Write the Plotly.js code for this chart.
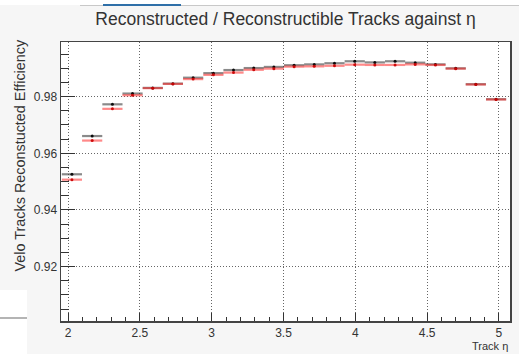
<!DOCTYPE html>
<html>
<head>
<meta charset="utf-8">
<script src="https://cdn.plot.ly/plotly-3.0.1.min.js"></script>
<style>
html,body{margin:0;padding:0;background:#f6f6f6;overflow:hidden;width:519px;height:354px;}
#wrap{position:absolute;left:0;top:0;width:519px;height:354px;background:#f6f6f6;overflow:hidden;}
#chart{position:absolute;left:0;top:0;width:519px;height:354px;z-index:2;}
.deco{position:absolute;z-index:1;}
</style>
</head>
<body>
<div id="wrap">
  <div class="deco" style="left:0;top:0;width:519px;height:5px;background:#ffffff;"></div>
  <div class="deco" style="left:80px;top:5px;width:439px;height:1px;background:#c8c8c8;"></div>
  <div class="deco" style="left:103px;top:4px;width:78px;height:2px;background:#2f6fa8;"></div>
  <div class="deco" style="left:0;top:290px;width:27px;height:64px;background:#ffffff;"></div>
  <div class="deco" style="left:0;top:317px;width:27px;height:2px;background:#b4b4b4;"></div>
  <div id="chart"></div>
</div>
<script>
// Bin centres in track eta (22 uniform bins)
const etaCenters = [2.027, 2.168, 2.309, 2.449, 2.590, 2.730, 2.871, 3.012, 3.152, 3.293, 3.433,
                    3.574, 3.714, 3.855, 3.996, 4.136, 4.277, 4.417, 4.558, 4.699, 4.839, 4.980];
const etaHalfWidth = 0.0703;

// Series 1 (black)
const effBlack = [0.9526, 0.9661, 0.9773, 0.9811, 0.9831, 0.9846, 0.9867, 0.9883, 0.9894, 0.9901, 0.9905,
                  0.9911, 0.9914, 0.9918, 0.9925, 0.9921, 0.9925, 0.9920, 0.9914, 0.9900, 0.9844, 0.9791];
// Series 2 (red)
const effRed   = [0.9507, 0.9645, 0.9757, 0.9805, 0.9830, 0.9845, 0.9862, 0.9877, 0.9885, 0.9895, 0.9899,
                  0.9906, 0.9907, 0.9909, 0.9913, 0.9912, 0.9912, 0.9914, 0.9912, 0.9899, 0.9843, 0.9790];

const titleText = "Reconstructed / Reconstructible Tracks against η";
const yTitleText = "Velo Tracks Reconstucted Efficiency";
const xTitleText = "Track η";

const font = "Liberation Sans, Arial, sans-serif";

function series(y, barColor, dotColor) {
  return {
    type: 'scatter', mode: 'markers',
    x: etaCenters, y: y,
    marker: {size: 3, color: dotColor},
    error_x: {type: 'constant', value: etaHalfWidth, thickness: 2.2, width: 0, color: barColor},
    error_y: {type: 'constant', value: 0.00025, thickness: 1, width: 0, color: barColor},
    hoverinfo: 'x+y', showlegend: false
  };
}

const data = [
  series(effBlack, 'rgba(60,60,60,0.6)', 'rgba(0,0,0,0.9)'),
  series(effRed, 'rgba(255,40,40,0.55)', 'rgba(200,0,0,0.9)')
];

const layout = {
  width: 519, height: 354,
  showlegend: false,
  margin: {l: 61, r: 9, t: 42, b: 33, pad: 0},
  paper_bgcolor: 'rgba(0,0,0,0)',
  plot_bgcolor: '#ffffff',
  font: {family: font, size: 12, color: '#333'},
  title: {text: titleText, font: {family: font, size: 17.5, color: '#333'},
          x: 0.5, xref: 'paper', xanchor: 'center', y: 1 - 19/354, yref: 'container', yanchor: 'middle'},
  xaxis: {
    range: [1.951, 5.077], dtick: 0.5, tick0: 2,
    ticks: 'inside', ticklen: 8, tickcolor: '#333', tickwidth: 1,
    showgrid: true, gridcolor: '#666', griddash: '1px,2px', gridwidth: 1,
    showline: true, linecolor: '#444', linewidth: 1.5, mirror: true,
    zeroline: false,
    minor: {dtick: 0.1, ticks: 'inside', ticklen: 4, tickcolor: '#333', showgrid: false},
    tickfont: {size: 12, color: '#333'}
  },
  yaxis: {
    range: [0.9008, 0.9993], dtick: 0.02, tick0: 0.92, tickformat: '.2f',
    ticks: 'inside', ticklen: 14, tickcolor: '#333', tickwidth: 1,
    showgrid: true, gridcolor: '#666', griddash: '1px,2px', gridwidth: 1,
    showline: true, linecolor: '#444', linewidth: 1.5, mirror: true,
    zeroline: false,
    minor: {dtick: 0.005, ticks: 'inside', ticklen: 8, tickcolor: '#333', showgrid: false},
    tickfont: {size: 12, color: '#333'}
  },
  annotations: [
    {text: yTitleText, xref: 'paper', yref: 'paper', x: (19 - 61) / 449, y: (321 - 37) / 279,
     xanchor: 'center', yanchor: 'top', textangle: -90, showarrow: false,
     font: {family: font, size: 14.4, color: '#333'}},
    {text: xTitleText, xref: 'paper', yref: 'paper', x: 1.0, y: -(346 - 321) / 279,
     xanchor: 'right', yanchor: 'middle', showarrow: false,
     font: {family: font, size: 11, color: '#333'}}
  ]
};

Plotly.newPlot('chart', data, layout, {displayModeBar: false, staticPlot: true});
</script>
</body>
</html>
